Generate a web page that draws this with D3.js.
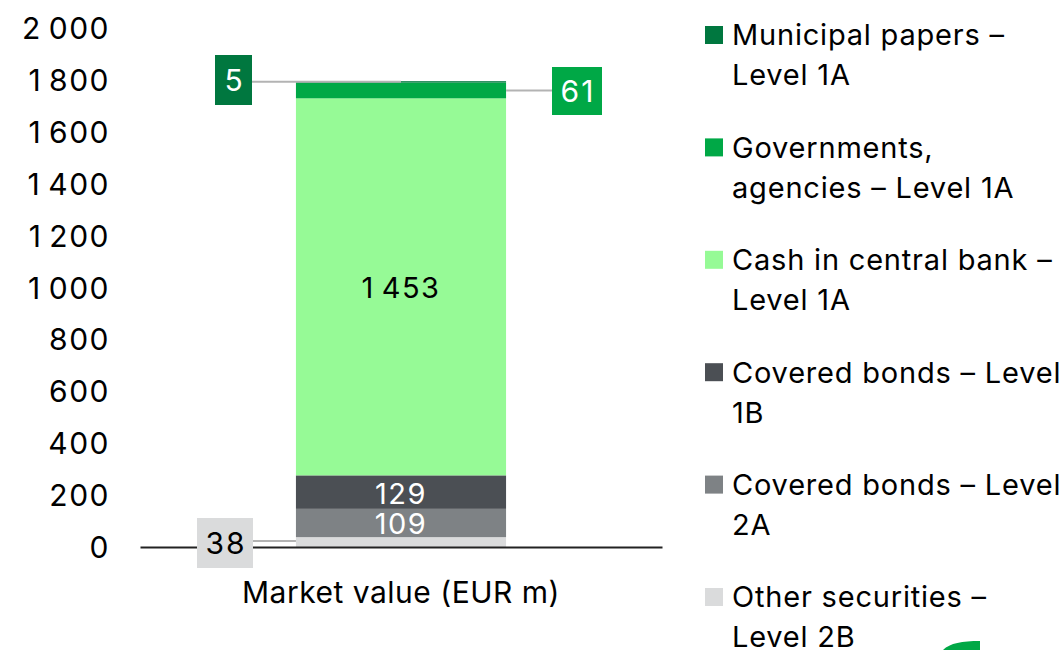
<!DOCTYPE html>
<html>
<head>
<meta charset="utf-8">
<script src="https://cdn.jsdelivr.net/npm/d3@7"></script>
<style>
  body { margin: 0; background: #fff; }
  svg { display: block; font-family: Inter, "Noto Sans", sans-serif; }
</style>
</head>
<body>
<svg id="chart" width="1063" height="650"></svg>
<script>
///////////////////////////////////////////
// Data
///////////////////////////////////////////
var categories = ["Market value (EUR m)"];
// bottom to top
var seriesNames = [
    "Other securities - Level 2B",
    "Covered bonds - Level 2A",
    "Covered bonds - Level 1B",
    "Cash in central bank - Level 1A",
    "Governments, agencies - Level 1A",
    "Municipal papers - Level 1A"
];
var seriesValues = [38, 109, 129, 1453, 61, 5];
var seriesColors = ["#dadbdc", "#7e8285", "#4b4f54", "#96fa96", "#00a846", "#00773f"];
var yTicks = [0, 200, 400, 600, 800, 1000, 1200, 1400, 1600, 1800, 2000];
// legend, top to bottom, as it wraps in the picture
var legendLines = [
    ["Municipal papers \u2013", "Level 1A"],
    ["Governments,", "agencies \u2013 Level 1A"],
    ["Cash in central bank \u2013", "Level 1A"],
    ["Covered bonds \u2013 Level", "1B"],
    ["Covered bonds \u2013 Level", "2A"],
    ["Other securities \u2013", "Level 2B"]
];
var legendColors = ["#00773f", "#00a846", "#96fa96", "#4b4f54", "#7e8285", "#dadbdc"];

///////////////////////////////////////////
// Chart
///////////////////////////////////////////
var svg = d3.select("#chart");
var loc = d3.formatLocale({decimal: ".", thousands: "\u2009", grouping: [3], currency: ["", ""]});
var fmt = loc.format(",d");

var x = d3.scaleBand().domain(categories).range([140, 662]).paddingInner(0.426).paddingOuter(0.426);
var y = d3.scaleLinear().domain([0, 2000]).range([547, 28]);

// stack
var stacked = [];
var acc = 0;
seriesValues.forEach(function(v, i) {
    stacked.push({name: seriesNames[i], value: v, y0: acc, y1: acc + v, color: seriesColors[i]});
    acc += v;
});

// y axis labels only
var yAxis = d3.axisLeft(y).tickValues(yTicks).tickSize(0).tickPadding(0).tickFormat(fmt);
var gy = svg.append("g").attr("transform", "translate(110,0)").call(yAxis);
gy.select(".domain").remove();
gy.selectAll("text")
    .attr("font-size", 30).attr("fill", "#000")
    .attr("font-family", "Inter, sans-serif")
    .attr("letter-spacing", 1.5)
    .attr("dy", "0.35em");

var cat = categories[0];
var bx = x(cat), bw = x.bandwidth();

svg.append("g").selectAll("rect")
    .data(stacked)
    .enter().append("rect")
    .attr("x", bx)
    .attr("width", bw)
    .attr("y", function(d) { return y(d.y1); })
    .attr("height", function(d) { return y(d.y0) - y(d.y1); })
    .attr("fill", function(d) { return d.color; });

// x axis
var xAxis = d3.axisBottom(x).tickSize(0).tickPadding(0);
var gx = svg.append("g").attr("transform", "translate(0," + y(0) + ")").call(xAxis);
gx.select(".domain").attr("stroke", "#222").attr("stroke-width", 2);
gx.selectAll("text")
    .attr("font-size", 30).attr("fill", "#000")
    .attr("font-family", "Inter, sans-serif")
    .attr("letter-spacing", 0.5)
    .attr("dy", "1.85em");

// labels inside bar
var cx = bx + bw / 2;
[1, 2, 3].forEach(function(i) {
    var d = stacked[i];
    svg.append("text")
        .attr("x", cx)
        .attr("y", (y(d.y0) + y(d.y1)) / 2 + 1)
        .attr("dy", "0.36em")
        .attr("text-anchor", "middle")
        .attr("font-size", 29)
        .attr("letter-spacing", 1.5)
        .attr("fill", i === 3 ? "#000" : "#fff")
        .text(fmt(d.value));
});

// boxed callouts
function callout(d, boxX, boxY, boxW, boxH, lineX1, lineX2, lineY, txtColor) {
    svg.append("line")
        .attr("x1", lineX1).attr("x2", lineX2)
        .attr("y1", lineY).attr("y2", lineY)
        .attr("stroke", "#b3b3b3").attr("stroke-width", 2);
    svg.append("rect")
        .attr("x", boxX).attr("y", boxY)
        .attr("width", boxW).attr("height", boxH)
        .attr("fill", d.color);
    svg.append("text")
        .attr("x", boxX + boxW / 2 + 1)
        .attr("y", boxY + boxH / 2)
        .attr("dy", "0.36em")
        .attr("text-anchor", "middle")
        .attr("font-size", 30)
        .attr("letter-spacing", 2)
        .attr("fill", txtColor)
        .text(fmt(d.value));
}
var sOther = stacked[0], sGov = stacked[4], sMun = stacked[5];
callout(sOther, 197, 518, 56, 50, 253, bx, y((sOther.y0 + sOther.y1) / 2) - 1, "#000");
callout(sGov, 552, 67, 50, 48, bx + bw, 552, y((sGov.y0 + sGov.y1) / 2), "#fff");
callout(sMun, 215, 55, 37, 50, 252, cx, y(sMun.y1) + 0.5, "#fff");

// legend
var lg = svg.append("g").selectAll("g")
    .data(legendLines)
    .enter().append("g")
    .attr("transform", function(d, i) { return "translate(705," + (35 + i * 112.4) + ")"; });
lg.append("rect")
    .attr("x", 0).attr("y", -9)
    .attr("width", 18).attr("height", 18)
    .attr("fill", function(d, i) { return legendColors[i]; });
lg.append("text")
    .attr("x", 27)
    .attr("font-size", 29)
    .attr("letter-spacing", 0.8)
    .attr("fill", "#000")
    .selectAll("tspan")
    .data(function(d) { return d; })
    .enter().append("tspan")
    .attr("x", 27)
    .attr("y", function(d, i) { return i * 40; })
    .attr("dy", "0.36em")
    .text(function(d) { return d; });

// logo fragment bottom right
svg.append("path")
    .attr("d", "M943,650 C950,643 962,641 980,641 L980,650 Z")
    .attr("fill", "#00a846");
</script>
</body>
</html>
